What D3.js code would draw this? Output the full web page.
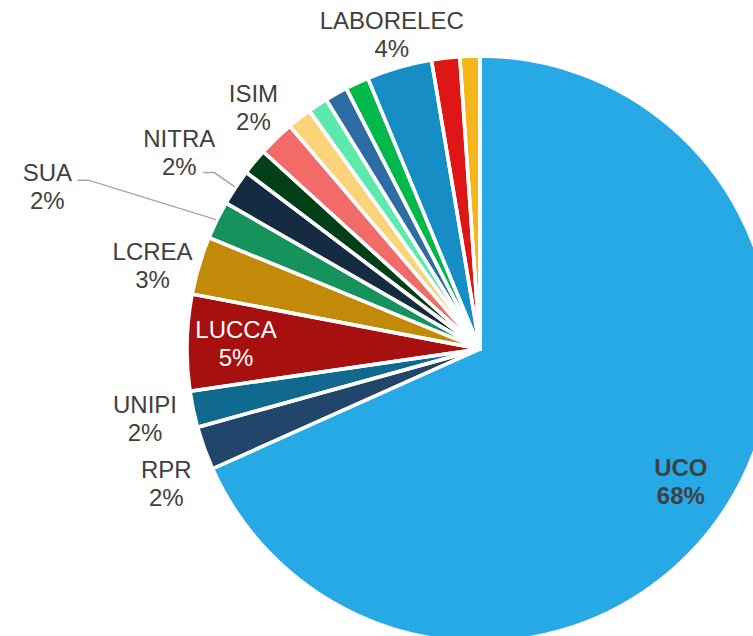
<!DOCTYPE html>
<html>
<head>
<meta charset="utf-8">
<script src="https://cdn.jsdelivr.net/npm/d3@7"></script>
<style>
  html, body { margin: 0; padding: 0; background: #fff; overflow: hidden; }
  text { font-family: "Liberation Sans", Arial, sans-serif; }
</style>
</head>
<body>
<div id="chart"></div>
<script>
// partners and their share
var partners = ["UCO", "RPR", "UNIPI", "LUCCA", "LCREA", "SUA", "NITRA", "Partner 8",
                "ISIM", "Partner 10", "Partner 11", "Partner 12", "Partner 13",
                "LABORELEC", "Partner 15", "Partner 16"];
var shares = [68.3, 2.4, 2.0, 5.3, 3.2, 2.1, 2.0, 1.45,
              2.0, 1.35, 1.1, 1.25, 1.3, 3.6, 1.55, 1.1];
var colours = ["#27a9e6", "#22466b", "#10698e", "#a6100f", "#c38a09", "#16935c", "#142b42", "#013f17",
               "#f26b69", "#fad37b", "#5ce9ae", "#2e6da4", "#00b94a", "#178dc6", "#df1616", "#f6b61b"];

// label placement: inside labels sit on the slice, outside ones get a nudge
var labelLayout = {
    "UCO":       {inside: true, bold: true, dx: -4, dy: 0},
    "LUCCA":     {inside: true, fill: "#fff", dx: 0, dy: 0},
    "RPR":       {dx: -6, dy: 24},
    "UNIPI":     {dx: -15, dy: 3},
    "LCREA":     {dx: -14, dy: 10},
    "SUA":       {dx: -139, dy: -18, leader: [30, -7]},
    "NITRA":     {dx: -28, dy: -16, leader: [24, 20]},
    "ISIM":      {dx: 1, dy: -6},
    "LABORELEC": {dx: 2, dy: 0}
};

function draw(){
    var width = 753, height = 636,
        cx = 480, cy = 349, radius = 293;

    var data = partners.map(function(p, i){ return {name: p, value: shares[i], colour: colours[i]}; });
    var total = d3.sum(data, function(d){ return d.value; });

    var svg = d3.select("#chart")
        .append("svg")
            .attr("width", width)
            .attr("height", height)
        .append("g")
            .attr("transform", "translate(" + cx + "," + cy + ")");

    var pie = d3.pie().sort(null).value(function(d){ return d.value; });
    var arcs = pie(data);
    var arc = d3.arc().innerRadius(0).outerRadius(radius);

    // fills first, then the white borders on top so all gaps look the same
    svg.append("g").selectAll("path")
        .data(arcs).enter().append("path")
            .attr("d", arc)
            .attr("fill", function(d){ return d.data.colour; });
    svg.append("g").selectAll("path")
        .data(arcs).enter().append("path")
            .attr("d", arc)
            .attr("fill", "none")
            .attr("stroke", "#fff")
            .attr("stroke-width", 3.5)
            .attr("stroke-linejoin", "round");

    function polar(a, r){ return [r * Math.sin(a), -r * Math.cos(a)]; }

    var labels = svg.append("g");
    arcs.forEach(function(d){
        var lay = labelLayout[d.data.name];
        if (!lay) return;
        var mid = (d.startAngle + d.endAngle) / 2;
        var pos = lay.inside ? polar(mid, radius * 0.833) : polar(mid, radius + 34);
        pos = [pos[0] + lay.dx, pos[1] + lay.dy];
        var pct = Math.round(d.data.value / total * 100) + "%";
        var t = labels.append("text")
            .attr("text-anchor", "middle")
            .attr("font-size", 24)
            .attr("font-weight", lay.bold ? "bold" : "normal")
            .attr("fill", lay.fill || "#404040");
        t.append("tspan").attr("x", pos[0]).attr("y", pos[1] - 6).text(d.data.name);
        t.append("tspan").attr("x", pos[0]).attr("y", pos[1] + 22).text(pct);

        if (lay.leader) {
            var end = [pos[0] + lay.leader[0], pos[1] + lay.leader[1]];
            var elbow = [end[0] + 11, end[1]];
            var tip = polar(mid, radius + 1);
            labels.append("path")
                .attr("d", d3.line()([end, elbow, tip]))
                .attr("fill", "none")
                .attr("stroke", "#a6a6a6")
                .attr("stroke-width", 1.5);
        }
    });
}
draw();
</script>
</body>
</html>
